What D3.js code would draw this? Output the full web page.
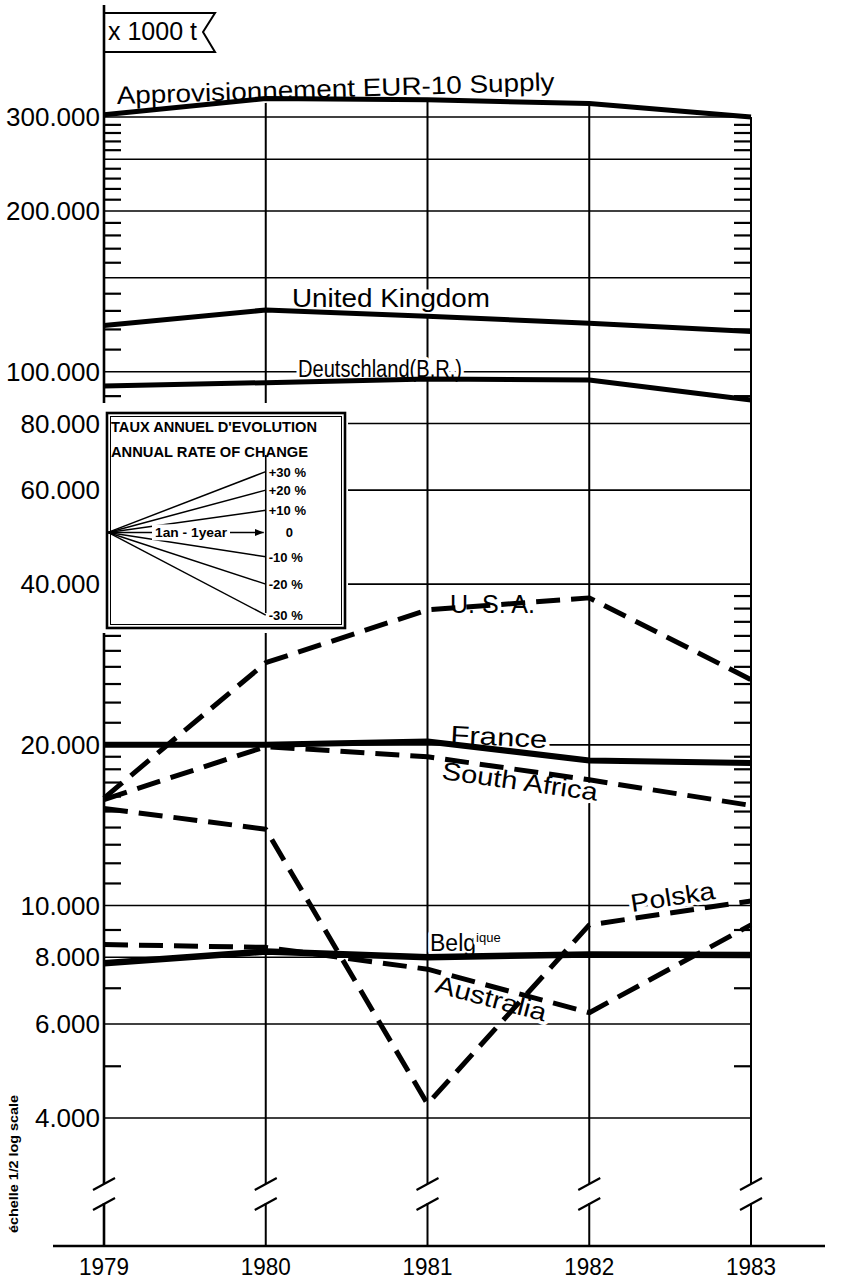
<!DOCTYPE html>
<html><head><meta charset="utf-8">
<script src="https://cdn.jsdelivr.net/npm/d3@7"></script>
<style>body{margin:0;background:#fff}svg{display:block}</style>
</head><body><svg id="c" width="852" height="1280"></svg>
<script>
// ---------- data ----------
const years = [1979, 1980, 1981, 1982, 1983];
const supply        = [303000, 325000, 323000, 318000, 300000];
const unitedKingdom = [122000, 130500, 127000, 123300, 119000];
const deutschland   = [94000, 95400, 96900, 96500, 88500];
const usa           = [15900, 28500, 35800, 37700, 26500];
const france        = [20000, 20000, 20300, 18700, 18500];
const southAfrica   = [15800, 19850, 19000, 17200, 15400];
const polska        = [15200, 13900, 4250, 9200, 10200];
const australia     = [8450, 8350, 7600, 6300, 9200];
const belgique      = [7800, 8200, 8000, 8100, 8080];

const tickLabelValues = [300000, 200000, 100000, 80000, 60000, 40000, 20000, 10000, 8000, 6000, 4000];
const tickLabelTexts  = ["300.000","200.000","100.000","80.000","60.000","40.000","20.000","10.000","8.000","6.000","4.000"];
const gridValues = [300000, 250000, 200000, 150000, 100000, 80000, 60000, 40000, 20000, 10000, 8000, 6000, 4000];
const minorTicks = [290000,280000,270000,260000,240000,230000,220000,210000,190000,180000,170000,160000,
                    140000,130000,120000,110000,90000,38000,36000,34000,32000,30000,28000,26000,24000,22000,
                    19000,18000,17000,16000,15000,14000,13000,12000,11000,9000,7000,5000];
const rates = [0.3, 0.2, 0.1, 0, -0.1, -0.2, -0.3];
const rateLabels = ["+30 %", "+20 %", "+10 %", "0", "-10 %", "-20 %", "-30 %"];
const fanBase = 50000;

// ---------- setup ----------
const FONT = "'Liberation Sans', Arial, sans-serif";
const svg = d3.select("#c");
const x = d3.scaleLinear().domain([1979, 1983]).range([104, 751]);
const y = d3.scaleLog().domain([4000, 300000]).range([1118, 117]);
const breakTop = 1184, breakBot = 1204, baseY = 1246;

// gridlines
svg.append("g").selectAll("line").data(gridValues).join("line")
  .attr("x1", x(1979)).attr("x2", x(1983))
  .attr("y1", d => y(d)).attr("y2", d => y(d))
  .attr("stroke", "#000").attr("stroke-width", 1.6);

// minor ticks (left axis and right 1983 line)
const tk = svg.append("g").attr("stroke", "#000").attr("stroke-width", 2.2);
tk.selectAll("line.l").data(minorTicks).join("line").attr("class", "l")
  .attr("x1", x(1979)).attr("x2", x(1979) + 17).attr("y1", d => y(d)).attr("y2", d => y(d));
tk.selectAll("line.r").data(minorTicks).join("line").attr("class", "r")
  .attr("x1", x(1983) - 17).attr("x2", x(1983)).attr("y1", d => y(d)).attr("y2", d => y(d));

// vertical year lines with break
const vg = svg.append("g").attr("stroke", "#000");
years.forEach((yr, i) => {
  const top = i === 0 ? 5 : y(supply[i]);
  const w = i === 0 ? 2.6 : 2;
  vg.append("line").attr("x1", x(yr)).attr("x2", x(yr)).attr("y1", top).attr("y2", breakTop).attr("stroke-width", w);
  vg.append("line").attr("x1", x(yr)).attr("x2", x(yr)).attr("y1", breakBot - 1).attr("y2", baseY).attr("stroke-width", w);
  [breakTop, breakBot].forEach(b => {
    vg.append("line").attr("x1", x(yr) - 11).attr("y1", b + 6).attr("x2", x(yr) + 11).attr("y2", b - 6).attr("stroke-width", 2.2);
  });
});
// baseline
svg.append("line").attr("x1", 53).attr("x2", 825).attr("y1", baseY).attr("y2", baseY)
  .attr("stroke", "#000").attr("stroke-width", 2.6);

// year labels
svg.append("g").selectAll("text").data(years).join("text")
  .attr("x", d => x(d)).attr("y", 1275).attr("text-anchor", "middle")
  .attr("font-family", FONT).attr("font-size", 24)
  .attr("textLength", 50).attr("lengthAdjust", "spacingAndGlyphs")
  .text(d => d);

// y tick labels
svg.append("g").selectAll("text").data(tickLabelValues).join("text")
  .attr("x", 100).attr("y", d => y(d)).attr("dy", "0.35em").attr("text-anchor", "end")
  .attr("font-family", FONT).attr("font-size", 26)
  .text((d, i) => tickLabelTexts[i]);

// unit flag
svg.append("path").attr("d", "M104,13 H215 L203,32 L215,52 H104")
  .attr("fill", "none").attr("stroke", "#000").attr("stroke-width", 2);
svg.append("text").attr("x", 108).attr("y", 40).attr("font-family", FONT).attr("font-size", 25)
  .attr("textLength", 89).attr("lengthAdjust", "spacingAndGlyphs").text("x 1000 t");

// log scale note
svg.append("text").attr("transform", "translate(18,1164) rotate(-90)").attr("text-anchor", "middle")
  .attr("font-family", FONT).attr("font-size", 12).attr("font-weight", "bold")
  .attr("textLength", 138).attr("lengthAdjust", "spacingAndGlyphs").text("échelle 1/2 log scale");

// ---------- inset box ----------
const bx0 = 107, bx1 = 345, by0 = 413, by1 = 628;
svg.append("rect").attr("x", 100).attr("y", 403).attr("width", 248).attr("height", 230).attr("fill", "#fff");
svg.append("rect").attr("x", bx0).attr("y", by0).attr("width", bx1 - bx0).attr("height", by1 - by0)
  .attr("fill", "none").attr("stroke", "#000").attr("stroke-width", 2.6);
svg.append("rect").attr("x", bx0 + 3.5).attr("y", by0 + 3.5).attr("width", bx1 - bx0 - 7).attr("height", by1 - by0 - 7)
  .attr("fill", "none").attr("stroke", "#000").attr("stroke-width", 1);
svg.append("text").attr("x", 111).attr("y", 432).attr("font-family", FONT).attr("font-size", 14.5).attr("font-weight", "bold")
  .attr("textLength", 206).attr("lengthAdjust", "spacingAndGlyphs").text("TAUX ANNUEL D'EVOLUTION");
svg.append("text").attr("x", 111).attr("y", 457).attr("font-family", FONT).attr("font-size", 14.5).attr("font-weight", "bold")
  .attr("textLength", 197).attr("lengthAdjust", "spacingAndGlyphs").text("ANNUAL RATE OF CHANGE");

const fx0 = bx0 + 1, fx1 = x(1980), fy0 = y(fanBase);
svg.append("line").attr("x1", fx1).attr("x2", fx1).attr("y1", 455).attr("y2", y(fanBase * 0.7) - 2)
  .attr("stroke", "#000").attr("stroke-width", 1.6);
svg.append("defs").append("marker").attr("id", "arr").attr("viewBox", "0 0 10 10").attr("refX", 10).attr("refY", 5)
  .attr("markerWidth", 9).attr("markerHeight", 9).attr("markerUnits", "userSpaceOnUse").attr("orient", "auto")
  .append("path").attr("d", "M0,1 L10,5 L0,9 Z").attr("fill", "#000");
rates.forEach((r, i) => {
  const ln = svg.append("line").attr("x1", fx0).attr("y1", fy0).attr("x2", r === 0 ? fx1 - 2 : fx1).attr("y2", y(fanBase * (1 + r)))
    .attr("stroke", "#000").attr("stroke-width", 1.5);
  if (r === 0) ln.attr("marker-end", "url(#arr)");
  svg.append("text").attr("x", r === 0 ? fx1 + 20 : fx1 + 3).attr("y", y(fanBase * (1 + r))).attr("dy", "0.38em")
    .attr("font-family", FONT).attr("font-size", 13).attr("font-weight", "bold").text(rateLabels[i]);
});
svg.append("rect").attr("x", 152).attr("y", fy0 - 8).attr("width", 78).attr("height", 16).attr("fill", "#fff");
svg.append("text").attr("x", 191).attr("y", fy0).attr("dy", "0.36em").attr("text-anchor", "middle")
  .attr("font-family", FONT).attr("font-size", 13).attr("font-weight", "bold")
  .attr("textLength", 72).attr("lengthAdjust", "spacingAndGlyphs").text("1an - 1year");

// ---------- series labels (with white halo, drawn under the data lines) ----------
const labels = [
  {t: "Approvisionnement EUR-10 Supply", x: 117, y: 104, rot: -1.8, len: 438, fs: 25},
  {t: "United Kingdom", x: 292, y: 307, rot: 0, len: 198, fs: 25},
  {t: "Deutschland(B.R.)", x: 298, y: 377, rot: 0, len: 164, fs: 23},
  {t: "U. S. A.", x: 450, y: 613, rot: 0, len: 85, fs: 25},
  {t: "France", x: 450, y: 743, rot: 3, len: 97, fs: 25},
  {t: "South Africa", x: 441, y: 779, rot: 8, len: 157, fs: 25},
  {t: "Polska", x: 632, y: 912, rot: -9, len: 85, fs: 25},
  {t: "Australia", x: 434, y: 992, rot: 15, len: 114, fs: 25}
];
const lg = svg.append("g").attr("font-family", FONT);
labels.forEach(l => {
  lg.append("text").attr("transform", `translate(${l.x},${l.y}) rotate(${l.rot})`)
    .attr("font-size", l.fs)
    .attr("textLength", l.len).attr("lengthAdjust", "spacingAndGlyphs")
    .attr("stroke", "#fff").attr("stroke-width", 7).attr("paint-order", "stroke").attr("stroke-linejoin", "round")
    .text(l.t);
});
const bl = lg.append("text").attr("x", 430).attr("y", 951)
  .attr("stroke", "#fff").attr("stroke-width", 7).attr("paint-order", "stroke").attr("stroke-linejoin", "round");
bl.append("tspan").attr("font-size", 23).text("Belg");
bl.append("tspan").attr("font-size", 13).attr("dy", -9).text("ique");

// ---------- data lines ----------
const series = [
  {v: supply, w: 5, dash: null},
  {v: unitedKingdom, w: 5, dash: null},
  {v: deutschland, w: 5, dash: null},
  {v: france, w: 6, dash: null},
  {v: belgique, w: 6.5, dash: null},
  {v: usa, w: 5, dash: "24,11"},
  {v: southAfrica, w: 5, dash: "24,11"},
  {v: polska, w: 5, dash: "24,11"},
  {v: australia, w: 5, dash: "24,11"}
];
const line = d3.line().x((d, i) => x(years[i])).y(d => y(d));
svg.append("g").selectAll("path").data(series).join("path")
  .attr("d", s => line(s.v)).attr("fill", "none").attr("stroke", "#000")
  .attr("stroke-width", s => s.w).attr("stroke-dasharray", s => s.dash)
  .attr("stroke-linejoin", "round");
</script></body></html>
